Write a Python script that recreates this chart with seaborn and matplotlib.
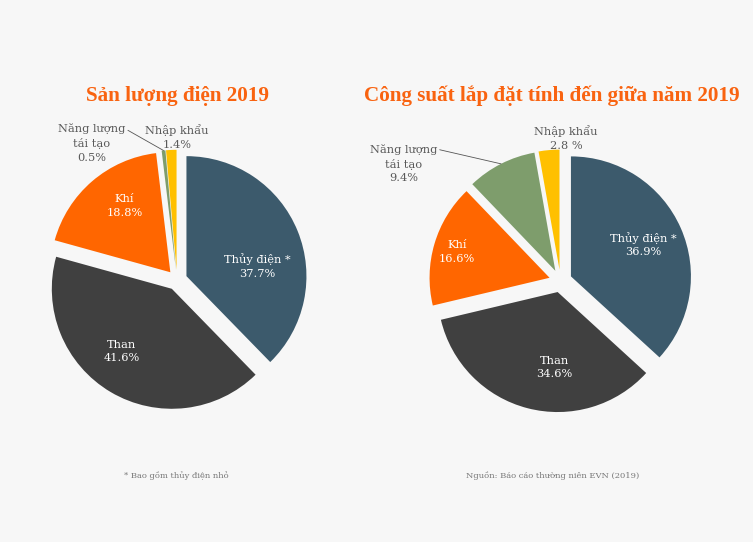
import numpy as np
import matplotlib
matplotlib.use("Agg")
import matplotlib.pyplot as plt
import seaborn as sns

# ---------------- data ----------------
categories = ["Thủy điện *", "Than", "Khí", "Năng lượng\ntái tạo", "Nhập khẩu"]
prod_values = [37.7, 41.6, 18.8, 0.5, 1.4]
prod_pct_text = ["37.7%", "41.6%", "18.8%", "0.5%", "1.4%"]
cap_values = [36.9, 34.6, 16.6, 9.4, 2.8]
cap_pct_text = ["36.9%", "34.6%", "16.6%", "9.4%", "2.8 %"]
titles = ["Sản lượng điện 2019", "Công suất lắp đặt tính đến giữa năm 2019"]
notes = ["* Bao gồm thủy điện nhỏ", "Nguồn: Báo cáo thường niên EVN (2019)"]

# ---------------- style ----------------
BG = "#f7f7f7"
sns.set_theme(style="white")
plt.rcParams["font.family"] = ["DejaVu Serif"]
colors = ["#3c5a6c", "#404040", "#ff6600", "#7e9d6c", "#ffc000"]
palette = sns.color_palette(colors)

W, H = 753, 542
fig = plt.figure(figsize=(W / 100, H / 100), dpi=100, facecolor=BG)

R_PX = 120.0
LIM = 1.45
size_px = 2 * LIM * R_PX
LABEL_FS = 8.2
LS = 1.45


def make_axes(cx_px, cy_px):
    left = (cx_px - size_px / 2) / W
    bottom = (H - cy_px - size_px / 2) / H
    ax = fig.add_axes([left, bottom, size_px / W, size_px / H])
    ax.set_facecolor(BG)
    return ax


# inside-label placement: (angle shift deg, distance fraction)
inner_pos = [
    [(-14, 0.60), (-8, 0.67), (-6, 0.67)],
    [(0, 0.66), (12, 0.63), (1, 0.80)],
]
# outside labels: (text x, text y) in pie units, arrow or not
outer_pos = [
    {3: ((-0.71, 1.14), True), 4: ((0.0, 1.19), False)},
    {3: ((-1.31, 0.98), True), 4: ((0.045, 1.19), False)},
]
explodes = [0.085, 0.095]
centers = [(177, 280), (560.5, 281)]

for k, (vals, pcts) in enumerate([(prod_values, prod_pct_text), (cap_values, cap_pct_text)]):
    ax = make_axes(*centers[k])
    wedges, _ = ax.pie(vals, colors=palette, startangle=90, counterclock=False,
                       explode=[explodes[k]] * len(vals), radius=1.0,
                       wedgeprops=dict(linewidth=0))
    ax.set_xlim(-LIM, LIM)
    ax.set_ylim(-LIM, LIM)
    ax.set_aspect("equal")
    ax.axis("off")

    for i, w in enumerate(wedges):
        mid = np.deg2rad((w.theta1 + w.theta2) / 2)
        cx, cy = w.center
        if i < 3:
            da, f = inner_pos[k][i]
            a = mid + np.deg2rad(da)
            ax.text(cx + f * w.r * np.cos(a), cy + f * w.r * np.sin(a),
                    f"{categories[i]}\n{pcts[i]}", ha="center", va="center",
                    color="white", fontsize=LABEL_FS, linespacing=LS)
        else:
            (tx, ty), arrow = outer_pos[k][i]
            if arrow:
                ax.annotate(f"{categories[i]}\n{pcts[i]}",
                            xy=(cx + 1.0 * np.cos(mid), cy + 1.0 * np.sin(mid)),
                            xytext=(tx, ty), ha="center", va="center",
                            color="#595959", fontsize=LABEL_FS, linespacing=LS,
                            arrowprops=dict(arrowstyle="-", color="#555555", lw=0.6,
                                            relpos=(1.0, 0.86), shrinkA=2, shrinkB=0,
                                            patchA=None))
            else:
                ax.text(tx, ty, f"{categories[i]}\n{pcts[i]}", ha="center", va="center",
                        color="#595959", fontsize=LABEL_FS, linespacing=LS)

# titles
title_font = dict(family=["Liberation Serif", "DejaVu Serif"], fontsize=15.2,
                  fontweight="bold", color="#f96310", ha="center", va="center")
fig.text(177 / W, 1 - 96 / H, titles[0], **title_font)
fig.text(552 / W, 1 - 96 / H, titles[1], **title_font)

# notes
fig.text(176 / W, 1 - 476 / H, notes[0], ha="center", va="center",
         color="#777777", fontsize=6)
fig.text(553 / W, 1 - 476 / H, notes[1], ha="center", va="center",
         color="#777777", fontsize=6)

fig.savefig("out.png", dpi=100, facecolor=BG)
